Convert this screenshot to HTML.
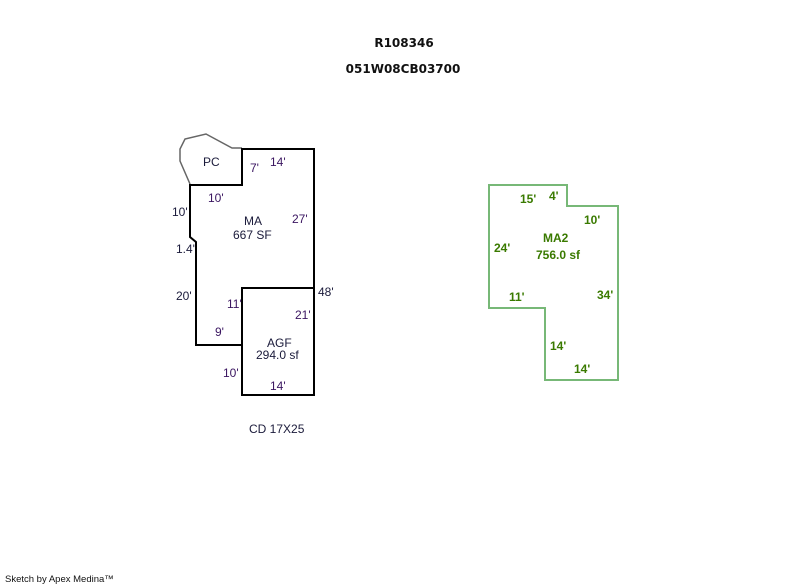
<!DOCTYPE html>
<html><head><style>
html,body{margin:0;padding:0;background:#fff;}
svg{display:block;}
text{font-family:"Liberation Sans",sans-serif;font-size:12px;}
.d{fill:#3a1560;}
.n{fill:#1a1a3a;}
.g{fill:#3a7a00;font-weight:bold;}
</style></head><body>
<svg width="800" height="587" viewBox="0 0 800 587" xmlns="http://www.w3.org/2000/svg">
<text x="404" y="47" text-anchor="middle" style="font-family:'DejaVu Sans',sans-serif;font-weight:bold;font-size:12px" fill="#111">R108346</text>
<text x="403" y="73" text-anchor="middle" style="font-family:'DejaVu Sans',sans-serif;font-weight:bold;font-size:12px" fill="#111">051W08CB03700</text>
<polyline points="190,184 180,161 180,149 185,139 206,134 232,148 242,148" fill="none" stroke="#666" stroke-width="1.5"/>
<polygon points="242,149 314,149 314,395 242,395 242,345 196,345 196,242 190,237 190,185 242,185" fill="none" stroke="#000" stroke-width="2"/>
<polyline points="242,345 242,288 314,288" fill="none" stroke="#000" stroke-width="2"/>
<text x="203" y="166" class="n">PC</text>
<text x="250" y="172" class="d">7'</text>
<text x="270" y="166" class="d">14'</text>
<text x="208" y="202" class="d">10'</text>
<text x="172" y="216" class="n">10'</text>
<text x="244" y="225" class="n">MA</text>
<text x="233" y="239" class="n">667 SF</text>
<text x="292" y="223" class="d">27'</text>
<text x="176" y="253" class="n">1.4'</text>
<text x="176" y="300" class="n">20'</text>
<text x="227" y="308" class="d">11'</text>
<text x="318" y="296" class="n">48'</text>
<text x="295" y="319" class="d">21'</text>
<text x="215" y="336" class="d">9'</text>
<text x="267" y="347" class="n">AGF</text>
<text x="256" y="359" class="n">294.0 sf</text>
<text x="223" y="377" class="d">10'</text>
<text x="270" y="390" class="d">14'</text>
<text x="249" y="433" class="n">CD 17X25</text>
<polygon points="489,185 567,185 567,206 618,206 618,380 545,380 545,308 489,308" fill="none" stroke="#77b877" stroke-width="2"/>
<text x="520" y="203" class="g">15'</text>
<text x="549" y="200" class="g">4'</text>
<text x="584" y="224" class="g">10'</text>
<text x="543" y="242" class="g">MA2</text>
<text x="536" y="259" class="g">756.0 sf</text>
<text x="494" y="252" class="g">24'</text>
<text x="509" y="301" class="g">11'</text>
<text x="597" y="299" class="g">34'</text>
<text x="550" y="350" class="g">14'</text>
<text x="574" y="373" class="g">14'</text>
<text x="5" y="582" style="font-size:9.5px" fill="#111">Sketch by Apex Medina™</text>
</svg>
</body></html>
